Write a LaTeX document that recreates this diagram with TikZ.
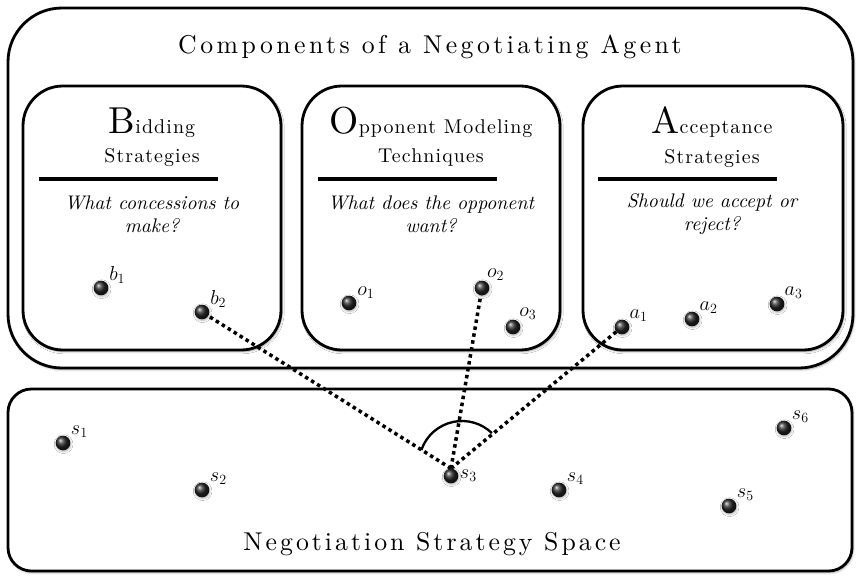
\documentclass[tikz,border=0pt]{standalone}
\usepackage{fontspec}
\setmainfont{lmroman10-regular.otf}[ItalicFont=lmroman10-italic.otf]
\newfontfamily\spacedfont{lmroman10-regular.otf}[LetterSpace=13.4]
\newfontfamily\spacefont{lmroman10-regular.otf}[LetterSpace=11.7]
\newfontfamily\headfont{lmroman10-regular.otf}[LetterSpace=5.5]
\usetikzlibrary{positioning,shadows.blur}
\pgfdeclarelayer{fg}
\pgfsetlayers{main,fg}

\newcommand{\firstletter}[1]{{\fontsize{32}{32}\selectfont #1}}

\begin{document}
\begin{tikzpicture}[x=0.03cm,y=-0.03cm,
  panel/.style={draw,line width=2.4pt,rounded corners=34pt,fill=white,
    blur shadow={shadow xshift=1pt,shadow yshift=-1.5pt,shadow blur steps=6,shadow opacity=35}},
  bigpanel/.style={panel,rounded corners=46pt},
  spacepanel/.style={panel,rounded corners=20pt},
  head/.style={align=center,font=\headfont\fontsize{17}{25}\selectfont},
  title/.style={font=\spacedfont\fontsize{22}{26}\selectfont},
  spacetitle/.style={font=\spacefont\fontsize{22}{26}\selectfont},
  ask/.style={align=center,font=\fontsize{16.8}{19.5}\selectfont\itshape},
  rule/.style={line width=3.4pt},
  ball/.style={circle,inner sep=0pt,minimum size=0.44cm,shading=ball,ball color=black!85,
    blur shadow={shadow xshift=0.5pt,shadow yshift=-1pt,shadow opacity=30}},
  lbl/.style={font=\fontsize{18}{18}\selectfont,inner sep=1pt},
  dotline/.style={line width=3pt,dash pattern=on 3pt off 3pt},
  arcline/.style={line width=2pt}]
  \useasboundingbox (0,0) rectangle (857,576);

  \draw[bigpanel] (8,8) rectangle (853,368);
  \node[title] (agent) at (430,47) {Components of a Negotiating Agent};

  \draw[panel] (23,86) rectangle (281,350);
  \draw[panel] (302,86) rectangle (560,350);
  \draw[panel] (583,86) rectangle (843,350);

  \node[head] (bidh) at (152,137) {\firstletter{B}idding\\Strategies};
  \node[head] (opph) at (431,137) {\firstletter{O}pponent Modeling\\Techniques};
  \node[head] (acch) at (712,137) {\firstletter{A}cceptance\\Strategies};

  \draw[rule] (39,179) -- (218,179);
  \draw[rule] (318,179) -- (497,179);
  \draw[rule] (598,179) -- (777,179);

  \node[ask] (bidq) at (152,214) {What concessions to\\make?};
  \node[ask] (oppq) at (431,214) {What does the opponent\\want?};
  \node[ask] (accq) at (712,214) {Should we accept or\\reject?};

  \draw[spacepanel] (8,389) rectangle (852,571);
  \node[spacetitle] (space) at (432,544) {Negotiation Strategy Space};

  \coordinate (vtx) at (462,464);
  \draw[arcline] (vtx) ++(161:1.29cm) arc[start angle=161,end angle=46,radius=1.29cm];

  \begin{pgfonlayer}{fg}
  \node[ball,label={[lbl]25:$b_1$}] (b1) at (101,288) {};
  \node[ball,label={[lbl]25:$b_2$}] (b2) at (202,312) {};
  \node[ball,label={[lbl]25:$o_1$}] (o1) at (349,303) {};
  \node[ball,label={[lbl]60:$o_2$}] (o2) at (482,288) {};
  \node[ball,label={[lbl]50:$o_3$}] (o3) at (513,327) {};
  \node[ball,label={[lbl]35:$a_1$}] (a1) at (622,327) {};
  \node[ball,label={[lbl]35:$a_2$}] (a2) at (692,319) {};
  \node[ball,label={[lbl]35:$a_3$}] (a3) at (777,304) {};

  \node[ball,label={[lbl]30:$s_1$}] (s1) at (63,443) {};
  \node[ball,label={[lbl]30:$s_2$}] (s2) at (202,490) {};
  \node[ball,label={[lbl]0:$s_3$}] (s3) at (451,476) {};
  \node[ball,label={[lbl]30:$s_4$}] (s4) at (559,490) {};
  \node[ball,label={[lbl]30:$s_5$}] (s5) at (729,506) {};
  \node[ball,label={[lbl]30:$s_6$}] (s6) at (784,428) {};
  \end{pgfonlayer}

  \draw[dotline] (s3.north) -- (b2.center);
  \draw[dotline] (s3.north) -- (o2.center);
  \draw[dotline] (s3.north) -- (a1.center);
\end{tikzpicture}
\end{document}
